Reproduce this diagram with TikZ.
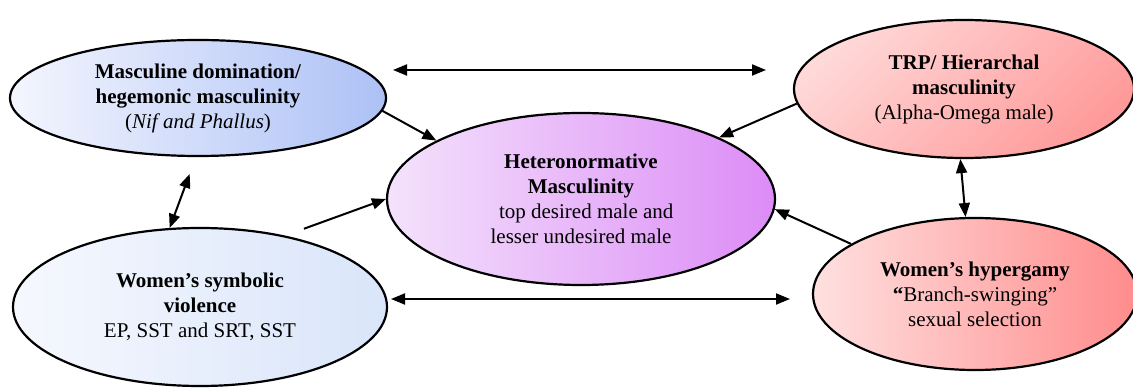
\documentclass[tikz,border=0pt]{standalone}
\usepackage{fontspec}
\setmainfont{Liberation Serif}
\usetikzlibrary{arrows.meta,shapes.geometric}
\definecolor{domlight}{HTML}{F4F6FE}
\definecolor{domdark}{HTML}{ADC1F6}
\definecolor{viollight}{HTML}{F6F8FE}
\definecolor{violdark}{HTML}{D9E5FA}
\definecolor{hetlight}{HTML}{F4E2FC}
\definecolor{hetdark}{HTML}{DC8CF6}
\definecolor{trplight}{HTML}{FFD8D8}
\definecolor{trpdark}{HTML}{FF9A9A}
\definecolor{hyplight}{HTML}{FFE0E0}
\definecolor{hypdark}{HTML}{FF8C8C}

\begin{document}
\begin{tikzpicture}[x=0.5pt,y=-0.5pt,>={Triangle[length=7pt,width=5.5pt]},
 idea/.style={ellipse,draw,line width=1.1pt,inner sep=0pt,align=center,font=\fontsize{10.5}{12.5}\selectfont},
 a/.style={->,line width=1pt},
 aa/.style={<->,line width=1pt}]
\useasboundingbox (0,0) rectangle (1133,389);

\node[idea,minimum width=188pt,minimum height=58pt,left color=domlight,right color=domdark] (dom) at (198,98)
 {\textbf{Masculine domination/}\\\textbf{hegemonic masculinity}\\(\textit{Nif and Phallus})};
\node[idea,minimum width=194pt,minimum height=86pt,left color=hetlight,right color=hetdark] (het) at (581,199)
 {\textbf{Heteronormative}\\\textbf{Masculinity}\\\ \ top desired male and\\lesser undesired male};
\node[idea,minimum width=170pt,minimum height=69pt,top color=trplight,bottom color=trpdark,shading angle=45] (trp) at (964,89)
 {\textbf{TRP/ Hierarchal}\\\textbf{masculinity}\\(Alpha-Omega male)};
\node[idea,minimum width=162pt,minimum height=76pt,left color=hyplight,right color=hypdark] (hyp) at (975,294)
 {\textbf{Women’s hypergamy}\\\textbf{``}Branch-swinging''\\sexual selection};
\node[idea,minimum width=187pt,minimum height=79pt,left color=viollight,right color=violdark] (viol) at (200,307)
 {\textbf{Women’s symbolic}\\\textbf{violence}\\EP, SST and SRT, SST};

% free ends of the two long arrows
\coordinate (toplft) at (393,70);
\coordinate (toprgt) at (766,70);
\coordinate (botlft) at (391,299);
\coordinate (botrgt) at (790,299);

\draw[aa] (toplft) -- (toprgt);
\draw[aa] (botlft) -- (botrgt);
\draw[a] (dom.-4) -- (het.158);
\draw[a] (trp.185) -- (het.24);
\draw[a,shorten <=10pt] (viol.40) -- (het.180);
\draw[a] (hyp.158) -- (het.-3);
\draw[aa,shorten >=9pt] (viol.111) -- (dom.-92);
\draw[aa] (trp.-93) -- (hyp.97);
\end{tikzpicture}
\end{document}
